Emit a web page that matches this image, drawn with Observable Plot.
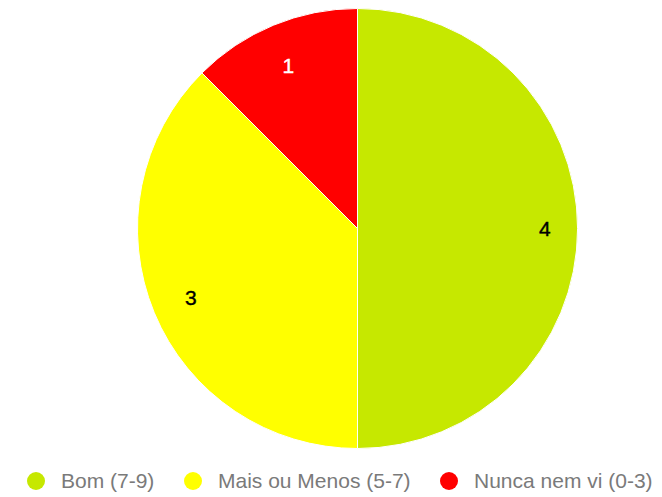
<!DOCTYPE html>
<html>
<head>
<meta charset="utf-8">
<script src="https://cdn.jsdelivr.net/npm/d3@7"></script>
<script src="https://cdn.jsdelivr.net/npm/@observablehq/plot@0.6"></script>
<style>
  body { margin: 0; background: #fff; font-family: Arial, "Liberation Sans", sans-serif; }
  #legend { position: relative; height: 39px; }
  .item { position: absolute; top: 11px; display: flex; align-items: center; font-size: 21px; color: #7a7a7a; white-space: nowrap; }
  .sw { width: 18px; height: 18px; border-radius: 50%; margin-right: 16px; }
</style>
</head>
<body>
<div id="chart"></div>
<div id="legend"></div>
<script>
const categories = ["Bom (7-9)", "Mais ou Menos (5-7)", "Nunca nem vi (0-3)"];
const values = [4, 3, 1];
const colors = ["#c6e800", "#ffff00", "#ff0000"];
const labelColors = ["#000000", "#000000", "#ffffff"];

const data = categories.map((c, i) => ({category: c, value: values[i]}));
const color = Plot.scale({color: {domain: categories, range: colors}});

const W = 662, H = 458, CX = 357.5, CY = 228.5, R = 220;

function pieMark(index, scales, vals, dims) {
  const pie = d3.pie().value(d => d.value).sort(null)(data);
  const arc = d3.arc().innerRadius(0).outerRadius(R);
  const labelArc = d3.arc().innerRadius(R * 0.82).outerRadius(R * 0.82);
  const g = d3.create("svg:g").attr("transform", `translate(${CX},${CY})`);
  g.selectAll("path").data(pie).join("path")
    .attr("d", arc)
    .attr("fill", d => color.apply(d.data.category))
    .attr("stroke", "#ffffff")
    .attr("stroke-width", 1);
  g.selectAll("text").data(pie).join("text")
    .attr("transform", d => `translate(${labelArc.centroid(d)})`)
    .attr("text-anchor", "middle")
    .attr("dy", "0.35em")
    .attr("dx", (d, i) => i === 0 ? 7 : 0)
    .attr("y", (d, i) => i === 2 ? 4 : 0)
    .attr("font-size", 21)
    .attr("font-family", "Arial, 'Liberation Sans', sans-serif")
    .attr("fill", (d, i) => labelColors[i])
    .attr("stroke", (d, i) => labelColors[i])
    .attr("stroke-width", 0.4)
    .text(d => d.data.value);
  return g.node();
}

const plot = Plot.plot({
  width: W,
  height: H,
  margin: 0,
  axis: null,
  marks: [pieMark]
});
document.getElementById("chart").appendChild(plot);

const legend = document.getElementById("legend");
const lefts = [27, 184, 440];
categories.forEach((c, i) => {
  const it = document.createElement("div");
  it.className = "item";
  it.style.left = lefts[i] + "px";
  const sw = document.createElement("span");
  sw.className = "sw";
  sw.style.background = color.apply(c);
  it.appendChild(sw);
  it.appendChild(document.createTextNode(c));
  legend.appendChild(it);
});
</script>
</body>
</html>
